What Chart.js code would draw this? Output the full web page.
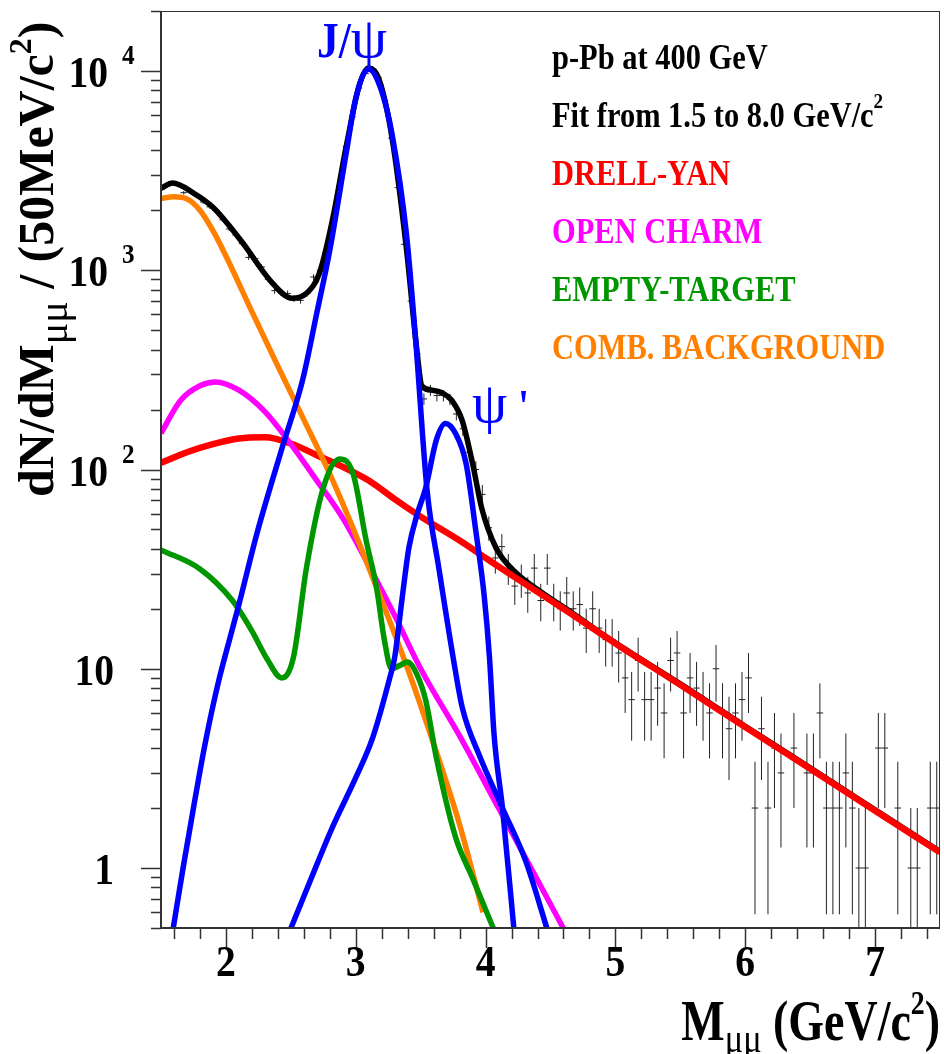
<!DOCTYPE html>
<html>
<head>
<meta charset="utf-8">
<script src="https://cdn.jsdelivr.net/npm/chart.js@4.4.0/dist/chart.umd.min.js"></script>
<style>
    html, body { margin: 0; padding: 0; background: #fff; }
    canvas { display: block; }
</style>
</head>
<body>
<canvas id="massChart" width="944" height="1054"></canvas>
<script>
// Dimuon mass bins (50 MeV) and counts per bin
const binLow = 1.5;
const binWidth = 0.05;
const counts = [
    2600, 2730, 2700, 2450, 2480, 2380, 2200, 2080, 2000, 1790,   // 1.525 - 1.975
    1610, 1500, 1360, 1160, 1145, 1040, 900, 790, 770, 764,       // 2.025 - 2.475
    720, 706, 764, 925, 1000, 1250, 1820, 2650, 4170, 5900,       // 2.525 - 2.975
    8200, 9700, 10200, 9300, 7100, 4600, 2600, 1350, 700, 380,    // 3.025 - 3.475
    226, 250, 235, 235, 225, 190, 160, 122, 100, 75,              // 3.525 - 3.975
    51, 36, 41, 32, 26, 28, 24, 32, 22, 32,                       // 4.025 - 4.475
    22, 20, 24, 20, 21, 16, 20, 16, 14, 14,                       // 4.525 - 4.975
    12, 9, 7, 11, 7, 7, 8, 6, 11, 12,                             // 5.025 - 5.475
    6, 9, 8, 7, 6, 10, 6, 5, 6, 7,                                // 5.525 - 5.975
    9, 2, 5, 2, 4, 3, 0, 4, 0, 3,                                 // 6.025 - 6.475
    3, 6, 2, 2, 2, 3, 2, 1, 1, 0,                                 // 6.525 - 6.975
    4, 4, 0, 2, 0, 1, 1, 0, 2, 2                                  // 7.025 - 7.475
];

// Total fit
const totMass = [1.5, 1.59, 1.75, 1.9, 2.13, 2.34, 2.51, 2.62, 2.72, 2.82, 2.93, 3.03, 3.1, 3.18, 3.28, 3.39, 3.47, 3.51, 3.59, 3.67, 3.74, 3.82, 3.9, 3.97, 4.08, 4.23, 4.43, 4.64, 4.97, 5.5, 6.0, 6.5, 7.0, 7.5];
const totVal = [2580, 2740, 2440, 2070, 1370, 890, 723, 766, 966, 1780, 4300, 8600, 10350, 9050, 4600, 1290, 400, 262, 250, 242, 222, 176, 107, 64, 40.5, 30.5, 24.2, 19.6, 13.9, 8.4, 5.15, 3.18, 1.96, 1.21];

// Drell-Yan
const dyMass = [1.5, 1.7, 1.9, 2.1, 2.3, 2.5, 2.7, 2.9, 3.1, 3.3, 3.5, 3.8, 4.0, 4.2, 4.6, 5.0, 5.5, 6.0, 6.5, 7.0, 7.5];
const dyVal = [108, 122, 134, 143, 145, 135, 118, 103, 88, 71, 58, 44, 36, 29.5, 20, 13.4, 8.3, 5.1, 3.15, 1.94, 1.2];

// Open charm
const ocMass = [1.5, 1.65, 1.8, 1.92, 2.1, 2.3, 2.5, 2.7, 2.9, 3.1, 3.3, 3.5, 3.8, 4.1, 4.35, 4.62];
const ocVal = [152, 222, 263, 275, 250, 195, 134, 88, 57, 33, 18.5, 10, 4.6, 2.0, 1.0, 0.47];

// Empty target
const etMass = [1.5, 1.8, 2.05, 2.2, 2.31, 2.43, 2.52, 2.62, 2.75, 2.875, 2.98, 3.08, 3.16, 3.22, 3.275, 3.34, 3.4, 3.47, 3.54, 3.62, 3.77, 3.9, 4.07];
const etVal = [39.5, 31.7, 22, 15.5, 11.4, 9.0, 11.4, 32, 81, 113, 95, 44, 25.6, 14, 10, 10.4, 10.8, 9.4, 6.9, 3.6, 1.42, 0.89, 0.48];

// Combinatorial background
const cbMass = [1.5, 1.6, 1.7, 1.8, 1.9, 2.0, 2.2, 2.4, 2.6, 2.8, 3.0, 3.2, 3.4, 3.6, 3.8, 3.98];
const cbVal = [2290, 2340, 2280, 2000, 1580, 1180, 620, 330, 178, 95, 47, 22, 10, 4.2, 1.65, 0.6];

// J/psi
const jpMass = [1.59, 1.67, 1.75, 1.83, 1.9, 1.95, 2.0, 2.1, 2.24, 2.44, 2.59, 2.7, 2.8, 2.93, 3.0, 3.1, 3.2, 3.28, 3.39, 3.46, 3.55, 3.64, 3.75, 3.82, 3.95, 4.13, 4.31, 4.48];
const jpVal = [0.48, 1.0, 2.0, 3.9, 6.5, 9.0, 12, 21, 48, 133, 280, 610, 1260, 4000, 7300, 10200, 7900, 4800, 1530, 460, 78, 32, 11.4, 6.4, 3.7, 2.0, 1.08, 0.48];

// psi'
const ppMass = [2.49, 2.7, 2.82, 3.0, 3.13, 3.26, 3.3, 3.355, 3.41, 3.47, 3.54, 3.62, 3.69, 3.77, 3.85, 3.925, 3.99, 4.03, 4.065, 4.13, 4.22];
const ppVal = [0.48, 1.04, 1.6, 2.84, 4.5, 8.9, 11.4, 22, 40.7, 58.7, 81.5, 140, 170, 151, 107, 49, 23, 11.4, 4.7, 2.0, 0.48];

// Axis labels
const xTickLabels = [2, 3, 4, 5, 6, 7];
const yLabelVal = [1, 10, 100, 1000, 10000];
const yLabelBase = ['1', '10', '10', '10', '10'];
const yLabelExp = ['', '', '2', '3', '4'];

const serif = '"Liberation Serif", "Times New Roman", serif';
const RED = '#ff0000', MAGENTA = '#ff00ff', GREEN = '#009600', ORANGE = '#ff8000', BLUE = '#0000ff';

function pts(xs, ys) {
    return xs.map((m, i) => ({ x: m, y: ys[i] }));
}

function curve(xs, ys, color, order, width) {
    return {
        data: pts(xs, ys),
        borderColor: color,
        borderWidth: width || 5.5,
        pointRadius: 0,
        cubicInterpolationMode: 'monotone',
        fill: false,
        clip: 0,
        order: order
    };
}

// Draw a run of text pieces (sub/superscripts), squeezed horizontally by sx
function rich(ctx, parts, x, y, sx, color, align) {
    const sc = p => (p.sx !== undefined ? p.sx : sx);
    let w = 0;
    parts.forEach(p => { ctx.font = p.font; w += ctx.measureText(p.t).width * sc(p); });
    let cx = align === 'right' ? x - w : (align === 'center' ? x - w / 2 : x);
    ctx.fillStyle = color;
    ctx.textAlign = 'left';
    ctx.textBaseline = 'alphabetic';
    parts.forEach(p => {
        ctx.font = p.font;
        ctx.save();
        ctx.translate(cx, y + (p.dy || 0));
        ctx.scale(sc(p), 1);
        ctx.fillText(p.t, 0, 0);
        ctx.restore();
        cx += ctx.measureText(p.t).width * sc(p);
    });
}

function bold(px) { return 'bold ' + px + 'px ' + serif; }
function plain(px) { return px + 'px ' + serif; }

const ink = {
    id: 'ink',
    // data points with error bars, under the curves
    beforeDatasetsDraw(chart) {
        const { ctx, chartArea: a, scales: { x, y } } = chart;
        ctx.save();
        ctx.beginPath();
        ctx.rect(a.left, a.top, a.right - a.left, a.bottom - a.top);
        ctx.clip();
        ctx.strokeStyle = '#222';
        ctx.lineWidth = 1;
        ctx.beginPath();
        counts.forEach((n, i) => {
            if (n <= 0) return;
            const m = binLow + binWidth * (i + 0.5);
            const err = Math.sqrt(n);
            const px = x.getPixelForValue(m);
            const py = y.getPixelForValue(n);
            const top = y.getPixelForValue(n + err);
            const bot = n - err > 0 ? y.getPixelForValue(n - err) : a.bottom + 5;
            ctx.moveTo(px, top);
            ctx.lineTo(px, bot);
            ctx.moveTo(x.getPixelForValue(m - binWidth / 2), py);
            ctx.lineTo(x.getPixelForValue(m + binWidth / 2), py);
        });
        ctx.stroke();
        ctx.restore();
    },
    afterDraw(chart) {
        const { ctx, chartArea: a, scales: { x, y } } = chart;
        ctx.save();

        // frame
        ctx.strokeStyle = '#333';
        ctx.lineWidth = 1;
        ctx.strokeRect(a.left + 0.5, a.top + 0.5, a.right - a.left - 1, a.bottom - a.top);
        ctx.lineWidth = 2;
        ctx.beginPath();
        ctx.moveTo(a.left, a.top);
        ctx.lineTo(a.left, a.bottom);
        ctx.lineTo(a.right, a.bottom);
        ctx.stroke();

        // y ticks (log), drawn outside the frame
        ctx.lineWidth = 1.5;
        ctx.beginPath();
        for (let e = -1; e <= 4; e++) {
            for (let k = 1; k <= 9; k++) {
                const v = k * Math.pow(10, e);
                if (v < 0.5 - 1e-9 || v > 20000 + 1e-6) continue;
                const py = Math.round(y.getPixelForValue(v)) + 0.5;
                ctx.moveTo(a.left - (k === 1 ? 20 : 10), py);
                ctx.lineTo(a.left, py);
            }
        }
        // x ticks every 0.2
        for (let i = 8; i <= 37; i++) {
            const px = Math.round(x.getPixelForValue(i / 5)) + 0.5;
            ctx.moveTo(px, a.bottom);
            ctx.lineTo(px, a.bottom + (i % 5 === 0 ? 20 : 11));
        }
        ctx.stroke();

        // y tick labels
        yLabelVal.forEach((v, i) => {
            const py = y.getPixelForValue(v);
            if (yLabelExp[i]) {
                rich(ctx, [{ t: yLabelBase[i], font: bold(44) }], 108, py + 16, 0.9, '#000', 'right');
                rich(ctx, [{ t: yLabelExp[i], font: bold(28) }], 122, py - 7, 0.9, '#000');
            } else {
                rich(ctx, [{ t: yLabelBase[i], font: bold(44) }], 114, py + 16, 0.9, '#000', 'right');
            }
        });

        // x tick labels
        xTickLabels.forEach(v => {
            rich(ctx, [{ t: String(v), font: bold(44) }], x.getPixelForValue(v), 976, 0.9, '#000', 'center');
        });

        // axis titles
        rich(ctx, [
            { t: 'M', font: bold(56) },
            { t: 'μμ', font: plain(42), dy: 12 },
            { t: ' (GeV/c', font: bold(56) },
            { t: '2', font: bold(34), dy: -26 },
            { t: ')', font: bold(56) }
        ], 940, 1040, 0.82, '#000', 'right');

        ctx.save();
        ctx.translate(53, 497);
        ctx.rotate(-Math.PI / 2);
        rich(ctx, [
            { t: 'dN/dM', font: bold(50) },
            { t: 'μμ', font: plain(40), dy: 14 },
            { t: ' / (50MeV/c', font: bold(50) },
            { t: '2', font: bold(32), dy: -22 },
            { t: ')', font: bold(50) }
        ], 0, 0, 1, '#000');
        ctx.restore();

        // peak labels
        rich(ctx, [{ t: 'J/', font: bold(50) }, { t: 'ψ', font: plain(58), sx: 1 }], 317, 57, 0.87, BLUE);
        rich(ctx, [{ t: 'ψ', font: plain(56), sx: 1 }], 472, 422, 1, BLUE);
        rich(ctx, [{ t: '\'', font: bold(46) }], 518, 422, 0.87, BLUE);

        // text block
        const tx = 552, sx = 0.87;
        rich(ctx, [{ t: 'p-Pb at 400 GeV', font: bold(35) }], tx, 69, sx, '#000');
        rich(ctx, [{ t: 'Fit from 1.5 to 8.0 GeV/c', font: bold(35) }, { t: '2', font: bold(22), dy: -19 }], tx, 127, sx, '#000');
        rich(ctx, [{ t: 'DRELL-YAN', font: bold(35) }], tx, 185, sx, RED);
        rich(ctx, [{ t: 'OPEN CHARM', font: bold(35) }], tx, 243, sx, MAGENTA);
        rich(ctx, [{ t: 'EMPTY-TARGET', font: bold(35) }], tx, 301, sx, GREEN);
        rich(ctx, [{ t: 'COMB. BACKGROUND', font: bold(35) }], tx, 359, sx, ORANGE);

        ctx.restore();
    }
};

const ctx = document.getElementById('massChart').getContext('2d');
new Chart(ctx, {
    type: 'line',
    data: {
        datasets: [
            curve(totMass, totVal, '#000000', 10),
            curve(dyMass, dyVal, RED, 6, 6.5),
            curve(ocMass, ocVal, MAGENTA, 5),
            curve(cbMass, cbVal, ORANGE, 4),
            curve(etMass, etVal, GREEN, 3),
            curve(ppMass, ppVal, BLUE, 2),
            curve(jpMass, jpVal, BLUE, 1)
        ]
    },
    options: {
        responsive: false,
        animation: false,
        devicePixelRatio: 1,
        layout: { padding: { top: 11, right: 4, left: 0, bottom: 0 } },
        plugins: { legend: { display: false }, tooltip: { enabled: false } },
        scales: {
            x: {
                type: 'linear',
                min: 1.5,
                max: 7.5,
                grid: { display: false },
                border: { display: false },
                ticks: { display: false },
                afterFit(scale) { scale.height = 126; }
            },
            y: {
                type: 'logarithmic',
                min: 0.5,
                max: 20000,
                grid: { display: false },
                border: { display: false },
                ticks: { display: false },
                afterFit(scale) { scale.width = 161; }
            }
        }
    },
    plugins: [ink]
});
</script>
</body>
</html>
